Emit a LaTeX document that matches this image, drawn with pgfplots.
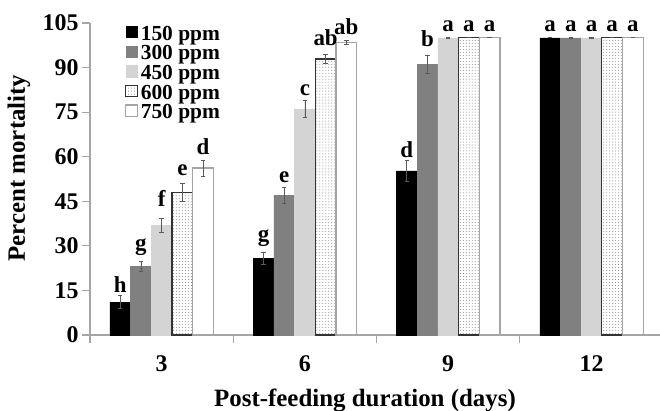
\documentclass[border=0pt]{standalone}
\usepackage{fontspec}
\setmainfont{Liberation Serif}
\usepackage{pgfplots}
\pgfplotsset{compat=1.18}
\usepackage{pgfplotstable}
\usetikzlibrary{patterns}

\definecolor{cA}{RGB}{0,0,0}
\definecolor{cB}{RGB}{128,128,128}
\definecolor{cC}{RGB}{212,212,212}
\definecolor{axgray}{RGB}{165,165,165}
\definecolor{errgray}{RGB}{90,90,90}

% x = day index, y = percent mortality, err = error bar, ly = baseline of the letter, lab = letter
\pgfplotstableread{
x y err ly lab
0 11.1 2.1 14.2 h
1 25.8 1.9 31.5 g
2 55.2 3.4 59.9 d
3 100 0 102.3 a
}\tA
\pgfplotstableread{
x y err ly lab
0 23.2 1.7 28.4 g
1 47.1 2.7 51.4 e
2 91.1 3.1 97.1 b
3 100 0.2 102.3 a
}\tB
\pgfplotstableread{
x y err ly lab
0 37.0 2.4 43.2 f
1 76.1 3.0 80.5 c
2 100 0.2 102.3 a
3 100 0.2 102.3 a
}\tC
\pgfplotstableread{
x y err ly lab
0 48.1 3.0 53.6 e
1 92.9 1.6 97.3 ab
2 100 0 102.3 a
3 100 0 102.3 a
}\tD
\pgfplotstableread{
x y err ly lab
0 56.2 2.7 60.6 d
1 98.5 0.8 101.0 ab
2 100 0 102.3 a
3 100 0 102.3 a
}\tE

\pgfplotsset{
  sq/.style={legend image code/.code={\draw[##1] (0bp,-2.5bp) rectangle (11.5bp,9bp);}},
  lab/.style={forget plot, draw=none, fill=none, bar shift=#1,
    nodes near coords, point meta=explicit symbolic,
    every node near coord/.append style={font=\bfseries\fontsize{23}{23}\selectfont, anchor=base, inner sep=0pt, text=black}},
}

\begin{document}
\begin{tikzpicture}
\useasboundingbox (0,0) rectangle (660bp,411bp);
\begin{axis}[
  at={(90bp,76bp)}, anchor=south west,
  scale only axis, width=570bp, height=312bp,
  xmin=-0.5, xmax=3.478, ymin=0, ymax=105,
  clip=false,
  axis lines*=left,
  axis line style={axgray, line width=1.1bp},
  tick style={axgray, line width=1.1bp},
  tick align=outside,
  major tick length=8bp,
  xtick={-0.5,0.5,1.5,2.5,3.5},
  xticklabels={},
  extra x ticks={0,1,2,3},
  extra x tick labels={3,6,9,12},
  extra x tick style={tick style={draw=none}},
  ytick={0,15,30,45,60,75,90,105},
  /pgf/number format/assume math mode=true,
  ticklabel style={font=\bfseries\fontsize{24}{24}\selectfont},
  xticklabel style={anchor=base, yshift=-28bp},
  yticklabel style={anchor=east},
  xlabel={Post-feeding duration (days)},
  ylabel={Percent mortality},
  label style={font=\bfseries\fontsize{25}{25}\selectfont},
  xlabel style={at={(rel axis cs:0.4825,-0.2276)}, anchor=base},
  ylabel style={at={(rel axis cs:-0.1246,0.535)}, anchor=center},
  ybar=0pt, bar width=20.7bp,
  legend cell align=left,
  legend style={draw=none, fill=none, at={(rel axis cs:0.0614,0.9936)}, anchor=north west,
    inner sep=0pt, row sep=-0.3bp, column sep=2bp, font=\bfseries\fontsize{21.5}{21.5}\selectfont,
    nodes={inner sep=0pt, inner xsep=1bp, text height=15bp, text depth=5bp}},
  every axis plot/.append style={
    error bars/y dir=both, error bars/y explicit,
    error bars/error bar style={errgray, line width=0.8bp},
    error bars/error mark options={errgray, rotate=90, mark size=2.2bp, line width=0.8bp}},
]
\addplot[fill=cA, draw=cA, bar shift=-41.4bp, sq]
  table[x=x, y=y, y error=err] {\tA};
\addlegendentry{150 ppm}
\addplot[fill=cB, draw=cB, bar shift=-20.7bp, sq]
  table[x=x, y=y, y error=err] {\tB};
\addlegendentry{300 ppm}
\addplot[fill=cC, draw=cC, bar shift=0bp, sq]
  table[x=x, y=y, y error=err] {\tC};
\addlegendentry{450 ppm}
\addplot[fill=white, draw=black!80, line width=1.1bp, postaction={pattern=dots, pattern color=gray}, bar shift=20.7bp, sq]
  table[x=x, y=y, y error=err] {\tD};
\addlegendentry{600 ppm}
\addplot[fill=white, draw=axgray, line width=1.1bp, bar shift=41.4bp, sq]
  table[x=x, y=y, y error=err] {\tE};
\addlegendentry{750 ppm}

\addplot[lab=-41.4bp, error bars/y explicit=false] table[x=x, y=ly, meta=lab] {\tA};
\addplot[lab=-20.7bp, error bars/y explicit=false] table[x=x, y=ly, meta=lab] {\tB};
\addplot[lab=0bp, error bars/y explicit=false] table[x=x, y=ly, meta=lab] {\tC};
\addplot[lab=20.7bp, error bars/y explicit=false] table[x=x, y=ly, meta=lab] {\tD};
\addplot[lab=41.4bp, error bars/y explicit=false] table[x=x, y=ly, meta=lab] {\tE};
\end{axis}
\end{tikzpicture}
\end{document}
